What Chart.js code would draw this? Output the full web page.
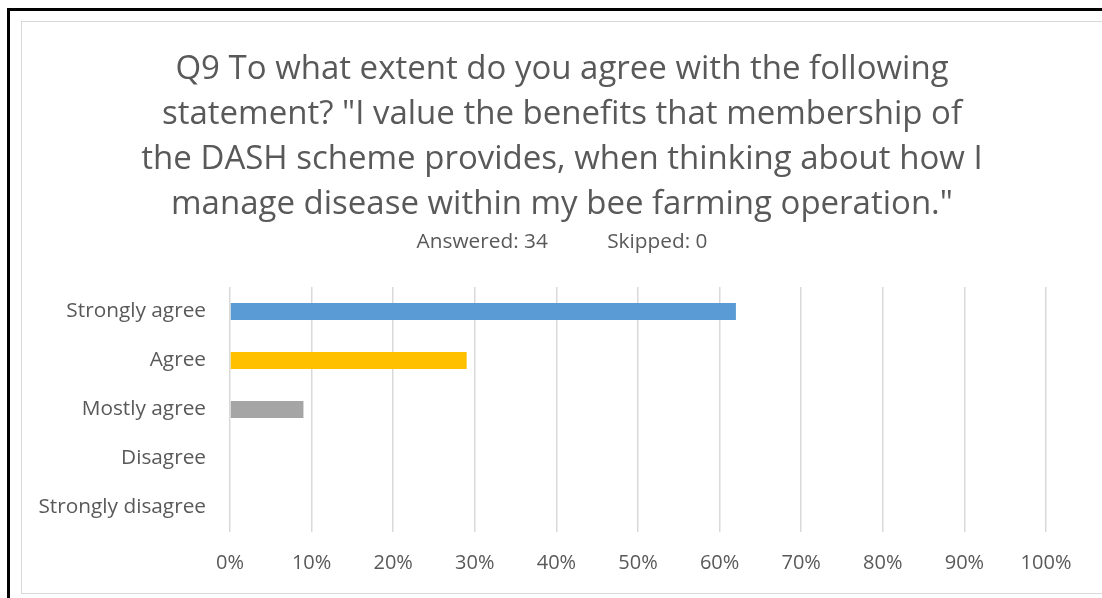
<!DOCTYPE html>
<html>
<head>
<meta charset="utf-8">
<script src="https://cdn.jsdelivr.net/npm/chart.js@4.4.0/dist/chart.umd.min.js"></script>
<style>
  html, body { margin: 0; padding: 0; background: #fff; width: 1102px; height: 598px; overflow: hidden; }
  #outer { position: absolute; left: 7px; top: 8px; width: 1100px; height: 600px; border-top: 3px solid #000; border-left: 3px solid #000; }
  #frame { position: absolute; left: 21px; top: 21px; width: 1080px; height: 571px; border: 1px solid #d9d9d9; background: #fff; }
  canvas { display: block; }
</style>
</head>
<body>
<div id="outer"></div>
<div id="frame"><canvas id="c" width="1080" height="571"></canvas></div>
<script>
const titleLines = [
  'Q9 To what extent do you agree with the following',
  'statement? "I value the benefits that membership of',
  'the DASH scheme provides, when thinking about how I',
  'manage disease within my bee farming operation."'
];
const subtitleText = 'Answered: 34           Skipped: 0';
const categories = ['Strongly agree', 'Agree', 'Mostly agree', 'Disagree', 'Strongly disagree'];
const values = [62, 29, 9, 0, 0];
const barColors = ['#5B9BD5', '#FFC000', '#A5A5A5', '#4472C4', '#ED7D31'];
const xTicks = [0, 10, 20, 30, 40, 50, 60, 70, 80, 90, 100];

const FONT = '"Open Sans", Lato, sans-serif';
const TEXT = '#595959';

new Chart(document.getElementById('c'), {
  type: 'bar',
  data: {
    labels: categories,
    datasets: [{
      data: values,
      backgroundColor: barColors,
      borderWidth: 0,
      barPercentage: 0.35,
      categoryPercentage: 1.0
    }]
  },
  options: {
    indexAxis: 'y',
    responsive: false,
    animation: false,
    layout: { padding: { left: 0, right: 0, top: 0, bottom: 0 } },
    plugins: {
      legend: { display: false },
      tooltip: { enabled: false },
      title: {
        display: true,
        text: titleLines,
        color: TEXT,
        font: { family: FONT, size: 33, weight: 'normal', lineHeight: 45 / 33 },
        padding: { top: 25.5, bottom: 2 }
      },
      subtitle: {
        display: true,
        text: subtitleText,
        color: TEXT,
        font: { family: FONT, size: 20.8, weight: 'normal', lineHeight: 1.2 },
        padding: { top: 0, bottom: 32.54 }
      }
    },
    scales: {
      x: {
        min: 0, max: 100,
        afterBuildTicks: (s) => { s.ticks = xTicks.map(v => ({ value: v })); },
        afterFit: (s) => { s.height = 61; },
        grid: { color: '#d9d9d9', lineWidth: 1.5, drawTicks: false },
        border: { display: false },
        ticks: {
          color: TEXT, padding: 19,
          font: { family: FONT, size: 20 },
          callback: (v) => v + '%'
        }
      },
      y: {
        afterFit: (s) => { s.width = 208; },
        grid: { display: false, drawTicks: false },
        border: { display: false },
        ticks: {
          color: TEXT, padding: 24,
          font: { family: FONT, size: 20.8 }
        }
      },
      spacer: {
        type: 'linear',
        position: 'right',
        display: true,
        afterFit: (s) => { s.width = 56; },
        grid: { display: false, drawTicks: false },
        border: { display: false },
        ticks: { display: false }
      }
    }
  }
});
</script>
</body>
</html>
